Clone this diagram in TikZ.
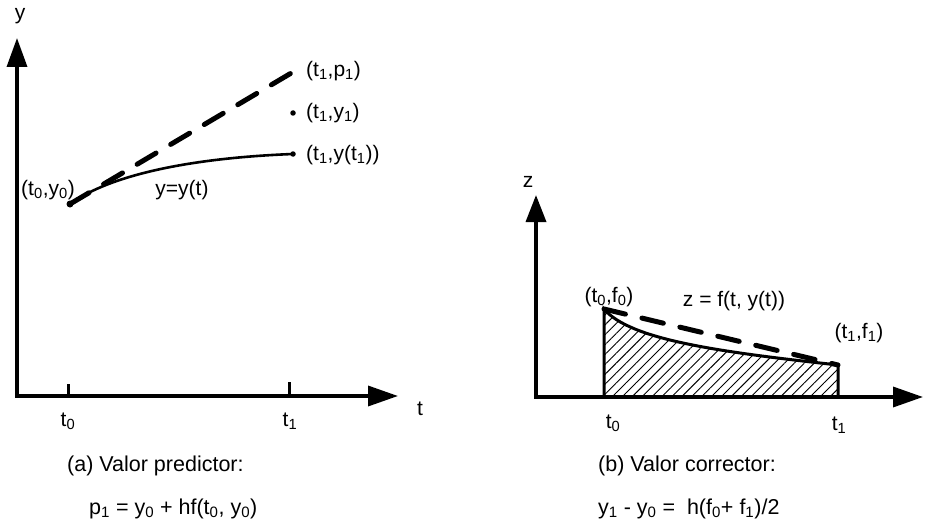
\documentclass[tikz,border=0pt]{standalone}
\usepackage{fontspec}
\setmainfont{Liberation Sans}
\usetikzlibrary{arrows.meta,patterns.meta}
\begin{document}
\begin{tikzpicture}[x=1pt,y=-1pt,
  axis/.style={line width=3.5pt,line join=miter,{Triangle[length=29pt,width=20pt]}-{Triangle[length=30pt,width=20pt]}},
  tickmark/.style={line width=3pt},
  curve/.style={line width=2.6pt},
  dashline/.style={line width=5pt,line cap=round,dash pattern=on 22pt off 17pt},
  lbl/.style={inner sep=0pt,font=\fontsize{21}{25}\selectfont},
  captxt/.style={inner sep=0pt,anchor=west,font=\fontsize{21.5}{26}\selectfont},
  dot/.style={circle,fill=black,inner sep=0pt,minimum size=5.5pt}
]
\useasboundingbox (0,0) rectangle (942,524);

% ---------- left plot ----------
\coordinate (O1) at (17,396);
\coordinate (Y1) at (17,38);
\coordinate (T1) at (398,396);
\draw[axis] (Y1) -- (O1) -- (T1);
\coordinate (a0) at (68,396);
\coordinate (a0t) at (68,384);
\coordinate (a1) at (289,396);
\coordinate (a1t) at (289,382);
\draw[tickmark] (a0) -- (a0t);
\draw[tickmark] (a1) -- (a1t);

\coordinate (P0) at (70,204);
\coordinate (Pp) at (293,72);
\node[dot] (Py) at (293,113) {};
\node[dot] (Pe) at (293,154) {};
\draw[curve] (P0) .. controls (110,175) and (190,158) .. (Pe.center);
\draw[dashline] (P0) -- (Pp);
\node[dot,minimum size=7pt] (P0dot) at (P0) {};

\node[lbl] (ylab) at (20,16) {y};
\node[lbl] (tlab) at (420,409) {t};
\node[lbl] (la0) at (68,421) {t\textsubscript{0}};
\node[lbl] (la1) at (290,421) {t\textsubscript{1}};
\node[lbl,anchor=west] (lp) at (306,71) {(t\textsubscript{1},p\textsubscript{1})};
\node[lbl,anchor=west] (ly) at (306,113) {(t\textsubscript{1},y\textsubscript{1})};
\node[lbl,anchor=west] (lyt) at (306,155) {(t\textsubscript{1},y(t\textsubscript{1}))};
\node[lbl] (l0) at (48,190) {(t\textsubscript{0},y\textsubscript{0})};
\node[lbl] (lyy) at (182,190) {y=y(t)};

% ---------- right plot ----------
\coordinate (O2) at (536,397);
\coordinate (Z2) at (536,195);
\coordinate (T2) at (923,397);
\coordinate (b0) at (604,397);
\coordinate (b0t) at (604,309);
\coordinate (b1) at (838,397);
\coordinate (b1t) at (838,365);
\fill[pattern={Lines[angle=45,distance=7pt,line width=0.9pt]}]
  (b0) -- (b0t) .. controls (630,340) and (720,352) .. (b1t) -- (b1) -- cycle;
\draw[curve,line width=3pt] (b0) -- (b0t) .. controls (630,340) and (720,352) .. (b1t) -- (b1);
\draw[axis,{Triangle[length=27pt,width=20pt]}-{Triangle[length=30pt,width=20pt]}] (Z2) -- (O2) -- (T2);
\draw[dashline] (b0t) -- (b1t);

\node[lbl] (zlab) at (528,182) {z};
\node[lbl] (lb0) at (613,423) {t\textsubscript{0}};
\node[lbl] (lb1) at (839,425) {t\textsubscript{1}};
\node[lbl] (lf0) at (609,297) {(t\textsubscript{0},f\textsubscript{0})};
\node[lbl] (lz) at (734,301) {z = f(t,\ y(t))};
\node[lbl] (lf1) at (859,333) {(t\textsubscript{1},f\textsubscript{1})};

% ---------- captions ----------
\node[captxt] (capa) at (67,466) {(a) Valor predictor:};
\node[captxt] (eqa) at (89,509) {p\textsubscript{1} = y\textsubscript{0} + hf(t\textsubscript{0}, y\textsubscript{0})};
\node[captxt] (capb) at (598,466) {(b) Valor corrector:};
\node[captxt] (eqb) at (598,509) {y\textsubscript{1} - y\textsubscript{0} =\ \ h(f\textsubscript{0}+ f\textsubscript{1})/2};
\end{tikzpicture}
\end{document}
